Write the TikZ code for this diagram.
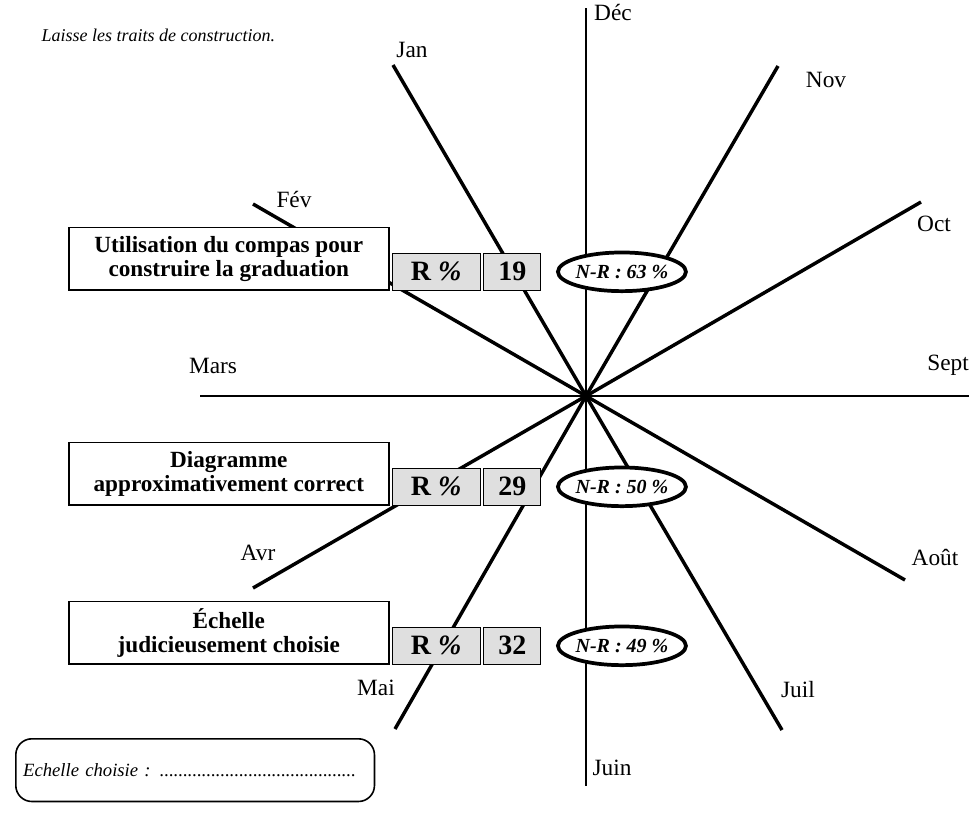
\documentclass[tikz,border=0pt]{standalone}
\usepackage{fontspec}
\setmainfont{Liberation Serif}
\usetikzlibrary{positioning,shapes.geometric}
\begin{document}
\begin{tikzpicture}[x=0.75pt,y=-0.75pt,
  ray/.style={line width=2.6pt},
  axe/.style={line width=1.4pt},
  mois/.style={font=\fontsize{17.5}{19}\selectfont,inner sep=0pt},
  critere/.style={draw,line width=1.2pt,fill=white,align=center,minimum width=240pt,minimum height=47pt,inner sep=0pt,font=\bfseries\fontsize{17.4}{17.5}\selectfont},
  reussite/.style={draw,line width=0.8pt,fill=gray!25,minimum height=28pt,inner sep=0pt,font=\bfseries\fontsize{21}{22}\selectfont},
  nonrep/.style={ellipse,draw,line width=2.8pt,fill=white,minimum width=96pt,minimum height=29pt,inner xsep=-4pt,inner ysep=0pt,font=\bfseries\itshape\fontsize{15}{17}\selectfont}]

\useasboundingbox (0,0) rectangle (969,822);

\node [anchor=west,font=\itshape\fontsize{13.5}{15}\selectfont] (consigne) at (37,35) {Laisse les traits de construction.};

% rays
\coordinate (centre) at (586,396);
\coordinate (dec) at (586,8);
\coordinate (juin) at (586,786);
\coordinate (mars) at (200,396);
\coordinate (sept) at (969,396);
\coordinate (jan) at (393,65);
\coordinate (nov) at (778,66);
\coordinate (fev) at (253,204);
\coordinate (oct) at (921,202);
\coordinate (avr) at (253,588);
\coordinate (aout) at (905,580);
\coordinate (mai) at (395,729);
\coordinate (juil) at (782,730);

\draw [axe] (dec) -- (juin);
\draw [axe] (mars) -- (sept);
\draw [ray] (centre) -- (jan);
\draw [ray] (centre) -- (nov);
\draw [ray] (centre) -- (fev);
\draw [ray] (centre) -- (oct);
\draw [ray] (centre) -- (avr);
\draw [ray] (centre) -- (aout);
\draw [ray] (centre) -- (mai);
\draw [ray] (centre) -- (juil);
\fill (centre) circle (4);

% month labels
\node [mois] (ldec) at (613,12) {Déc};
\node [mois] (ljan) at (412,50) {Jan};
\node [mois] (lnov) at (826,80) {Nov};
\node [mois] (lfev) at (294,199) {Fév};
\node [mois] (loct) at (934,224) {Oct};
\node [mois] (lmars) at (213,366) {Mars};
\node [mois] (lsept) at (948,365) {Sept};
\node [mois] (lavr) at (258,553) {Avr};
\node [mois] (laout) at (935,557) {Août};
\node [mois] (lmai) at (376,688) {Mai};
\node [mois] (ljuil) at (798,690) {Juil};
\node [mois] (ljuin) at (612,768) {Juin};

% compas
\node [critere,anchor=south west] (crit1) at (68,291) {Utilisation du compas pour\\construire la graduation};
\node [reussite,minimum width=66pt,right=1.5pt of crit1.south east,anchor=south west] (r1) {R \textit{\%}};
\node [reussite,minimum width=42.75pt,right=2pt of r1] (n1) {19};
\node [nonrep,right=11pt of n1] (nr1) {N-R : 63 \%};

% diagramme
\node [critere,anchor=south west] (crit2) at (68,506) {Diagramme\\approximativement correct};
\node [reussite,minimum width=66pt,right=1.5pt of crit2.south east,anchor=south west] (r2) {R \textit{\%}};
\node [reussite,minimum width=42.75pt,right=2pt of r2] (n2) {29};
\node [nonrep,right=11pt of n2] (nr2) {N-R : 50 \%};

% echelle
\node [critere,anchor=south west] (crit3) at (68,665) {Échelle\\judicieusement choisie};
\node [reussite,minimum width=66pt,right=1.5pt of crit3.south east,anchor=south west] (r3) {R \textit{\%}};
\node [reussite,minimum width=42.75pt,right=2pt of r3] (n3) {32};
\node [nonrep,right=11pt of n3] (nr3) {N-R : 49 \%};

% echelle choisie
\node [draw,line width=1.2pt,rounded corners=12pt,anchor=north west,minimum width=269pt,minimum height=47pt,text width=258pt,font=\itshape\fontsize{14}{16}\selectfont] (choix) at (15,738) {Echelle choisie : ..........................................};

\end{tikzpicture}
\end{document}
